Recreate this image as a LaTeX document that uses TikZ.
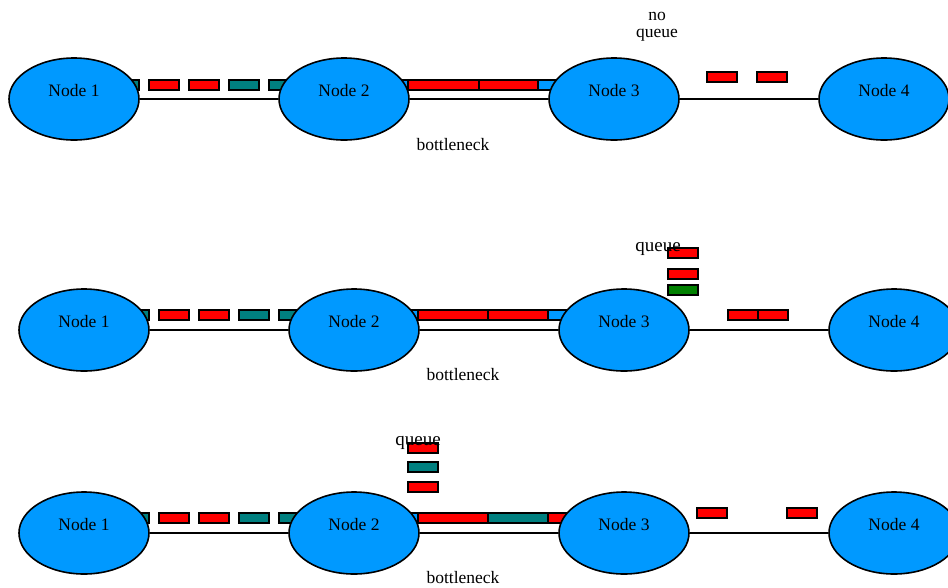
\documentclass[tikz,border=0pt]{standalone}
\usepackage{fontspec}
\setmainfont{Liberation Serif}
\usepackage{xcolor}
\usetikzlibrary{backgrounds,shapes.geometric}
\definecolor{nodeblue}{RGB}{0,153,255}
\definecolor{pktred}{RGB}{255,0,0}
\definecolor{pktteal}{RGB}{0,128,128}
\definecolor{pktgreen}{RGB}{0,128,0}
\tikzset{
  net node/.style={ellipse,draw=black,fill=nodeblue,line width=1.6pt,
    minimum width=130pt,minimum height=82pt,inner sep=0pt,text depth=18pt,
    font=\fontsize{17.5}{20}\selectfont},
  net link/.style={black,line width=1.6pt},
  net pkt/.style={draw=black,line width=1.2pt},
  net note/.style={anchor=base,inner sep=0pt,font=\fontsize{17.5}{20}\selectfont},
  net queue/.style={net note,font=\fontsize{19}{22}\selectfont}
}

\begin{document}
\begin{tikzpicture}[x=1pt,y=-1pt]
  \useasboundingbox (0,0) rectangle (948,587);
  \clip (0,0) rectangle (948,587);

  % three snapshots of the same four-node chain
  \foreach \i/\x in {1/74,2/344,3/614,4/884}
    \node[net node] (a\i) at (\x,99) {Node \i};
  \foreach \i/\x in {1/84,2/354,3/624,4/894}
    \node[net node] (b\i) at (\x,330) {Node \i};
  \foreach \i/\x in {1/84,2/354,3/624,4/894}
    \node[net node] (c\i) at (\x,533) {Node \i};

  \begin{scope}[on background layer]
    \draw[net link] (a1) -- (a2) -- (a3) -- (a4);
    \draw[net link] (b1) -- (b2) -- (b3) -- (b4);
    \draw[net link] (c1) -- (c2) -- (c3) -- (c4);

    % top: packets flowing, no queue yet
    \foreach \x/\c in {109/pktteal,149/pktred,189/pktred,229/pktteal,269/pktteal}
      \draw[net pkt,fill=\c] (\x,80) rectangle ++(30,10);
    \draw[net pkt,fill=nodeblue] (395,80) rectangle (565,90);
    \draw[net pkt,fill=pktred] (408,80) rectangle (479,90);
    \draw[net pkt,fill=pktred] (479,80) rectangle (538,90);
    \draw[net pkt,fill=pktred] (707,72) rectangle ++(30,10);
    \draw[net pkt,fill=pktred] (757,72) rectangle ++(30,10);

    % middle: queue builds at node 3
    \foreach \x/\c in {119/pktteal,159/pktred,199/pktred,239/pktteal,279/pktteal}
      \draw[net pkt,fill=\c] (\x,310) rectangle ++(30,10);
    \draw[net pkt,fill=nodeblue] (405,310) rectangle (575,320);
    \draw[net pkt,fill=pktred] (418,310) rectangle (488,320);
    \draw[net pkt,fill=pktred] (488,310) rectangle (548,320);
    \draw[net pkt,fill=pktred] (728,310) rectangle (758,320);
    \draw[net pkt,fill=pktred] (758,310) rectangle (788,320);

    % bottom: queue moves back to node 2
    \foreach \x/\c in {119/pktteal,159/pktred,199/pktred,239/pktteal,279/pktteal}
      \draw[net pkt,fill=\c] (\x,513) rectangle ++(30,10);
    \draw[net pkt,fill=nodeblue] (405,513) rectangle (575,523);
    \draw[net pkt,fill=pktred] (418,513) rectangle (488,523);
    \draw[net pkt,fill=pktteal] (488,513) rectangle (548,523);
    \draw[net pkt,fill=pktred] (548,513) rectangle (575,523);
    \draw[net pkt,fill=pktred] (697,508) rectangle ++(30,10);
    \draw[net pkt,fill=pktred] (787,508) rectangle ++(30,10);
  \end{scope}

  % queued packets
  \draw[net pkt,fill=pktred] (668,248) rectangle ++(30,10);
  \draw[net pkt,fill=pktred] (668,269) rectangle ++(30,10);
  \draw[net pkt,fill=pktgreen] (668,285) rectangle ++(30,10);
  \draw[net pkt,fill=pktred] (408,443) rectangle ++(30,10);
  \draw[net pkt,fill=pktteal] (408,462) rectangle ++(30,10);
  \draw[net pkt,fill=pktred] (408,482) rectangle ++(30,10);

  % labels
  \node[net note] (noq1) at (657,20) {no};
  \node[net note] (noq2) at (657,37.5) {queue};
  \node[net note] (bn1) at (453,150) {bottleneck};
  \node[net queue] (q2) at (658,251) {queue};
  \node[net note] (bn2) at (463,380) {bottleneck};
  \node[net queue] (q3) at (418,445) {queue};
  \node[net note] (bn3) at (463,583) {bottleneck};
\end{tikzpicture}
\end{document}
